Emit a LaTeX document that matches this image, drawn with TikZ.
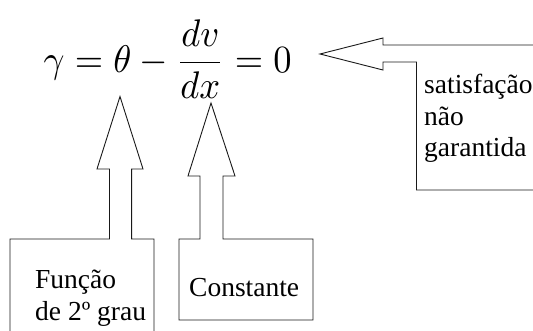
\documentclass[tikz,border=0pt]{standalone}
\usepackage{amsmath}
\usepackage{fontspec}
\setmainfont{Liberation Serif}
\newfontfamily\lblfont{Liberation Serif}
\begin{document}
\begin{tikzpicture}[x=1pt,y=-1pt,
  outline/.style={draw=black!90,line width=0.9pt,line join=miter},
  lbl/.style={inner sep=0pt,anchor=base west,align=left,font=\lblfont\fontsize{27.5}{31.7}\selectfont}]
\useasboundingbox (0,0) rectangle (533,331);
\clip (0,0) rectangle (533,331);
% equation
\node[inner sep=0pt,anchor=west,xscale=3.65,yscale=3.85] (eq) at (43,59) {$\gamma=\theta-\dfrac{dv}{dx}=0$};
% pointer tips
\coordinate (tipA) at (120,96.5);
\coordinate (tipB) at (211,103);
\coordinate (tipC) at (320,54);
% left callout
\draw[outline] (10,340) -- (10,239) -- (109.5,239) -- (109.5,169) -- (97,169) -- (tipA)
  -- (143,169) -- (131.6,169) -- (131.6,239) -- (154,239) -- (154,340);
% middle callout
\draw[outline] (179,239) -- (200,239) -- (200,176) -- (188,176) -- (tipB) -- (235,176)
  -- (223,176) -- (223,239) -- (313,239) -- (313,320) -- (179,320) -- cycle;
% right callout
\draw[outline] (540,45) -- (383,45) -- (383,38) -- (tipC) -- (383,70) -- (383,62)
  -- (416.5,62) -- (416.5,190) -- (540,190);
% labels
\node[lbl] (func) at (35,320) {Função\\de 2º grau};
\node[lbl] (const) at (189,296) {Constante};
\node[lbl] (sat) at (424,157) {satisfação\\não\\garantida};
\end{tikzpicture}
\end{document}
